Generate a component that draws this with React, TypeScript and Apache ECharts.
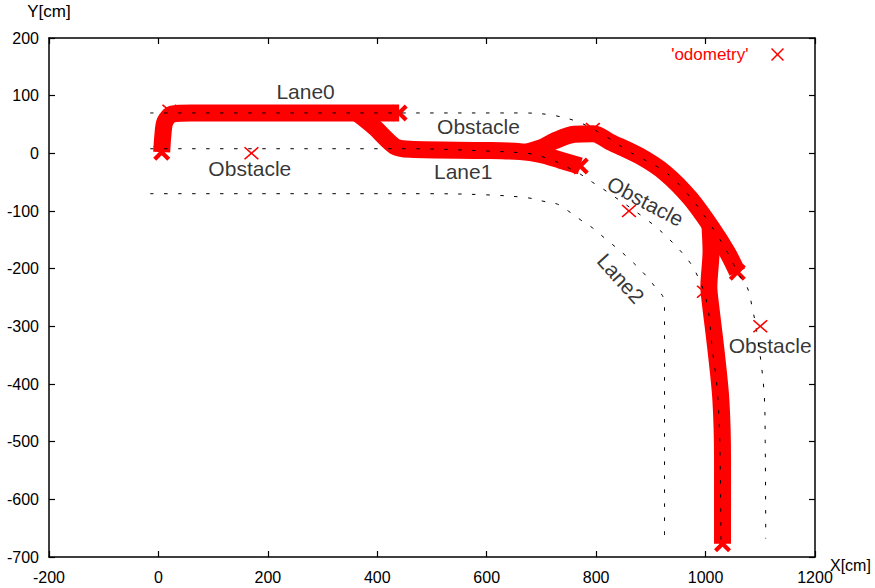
import React, { useEffect, useRef } from "react";
import * as echarts from "echarts";

// ---- axes ----
const xRange = [-200, 1200];
const xStep = 200;
const yRange = [-700, 200];
const yStep = 100;
const xTitle = "X[cm]";
const yTitle = "Y[cm]";
const legendName = "'odometry'";

// ---- lanes (dotted guide lines) [x, y] in cm ----
const lane0 = [
  [-15, 70], [300, 70], [620, 70], [666, 70], [721, 66], [771, 53], [820, 28],
  [862, 2], [926, -32], [972, -76], [1012, -128], [1040, -172], [1062, -212],
  [1076, -232], [1085, -266], [1094, -312], [1107, -416], [1109, -500], [1110, -668],
];
const lane1 = [
  [-15, 8], [300, 8], [460, 8], [600, 4], [674, 0], [698, -5], [721, -12],
  [747, -24], [771, -36], [793, -50], [813, -62], [898, -119], [939, -154],
  [972, -190], [986, -214], [996, -237], [1005, -272], [1012, -337],
  [1021, -406], [1026, -500], [1028, -670],
];
const lane2 = [
  [-15, -70], [300, -70], [490, -70], [600, -72], [674, -77], [703, -83],
  [729, -88], [749, -100], [771, -115], [793, -129], [813, -145], [857, -180],
  [890, -211], [908, -232], [923, -251], [925, -275], [925, -400], [925, -672],
];

// ---- odometry runs (dense markers -> thick trail) ----
const runA = [[6, 2], [8, 30], [12, 55], [25, 68], [60, 70], [440, 70]];
const runB = [[365, 68], [395, 45], [432, 12], [460, 7], [600, 5], [661, 3], [698, -2], [735, -12], [771, -22]];
const runC = [[672, 2], [700, 10], [725, 22], [760, 33], [795, 34], [825, 20], [880, -5], [926, -34], [972, -78], [1012, -130], [1040, -172], [1058, -206]];
const runD = [[1008, -125], [1010, -170], [1006, -232], [1008, -254], [1019, -341], [1028, -428], [1031, -532], [1031, -677]];
const runEnds = [[6, 2], [440, 70], [771, -22], [1058, -206], [1031, -677]];
const odometryPoints = [[20, 74], [794, 42], [997, -240]];

// ---- obstacles ----
const obstacles = [[170, 0], [860, -100], [1100, -300]];

// ---- text labels ----
const labelTexts = ["Lane0", "Obstacle", "Obstacle", "Lane1", "Obstacle", "Lane2", "Obstacle"];
const labelCoords = [[269, 108], [585, 46], [167, -27], [557, -31], [890, -83], [845, -217], [1118, -333]];
const labelAngles = [0, 0, 0, 0, -28, -48, 0];

const FONT = "'Liberation Sans', Arial, Helvetica, sans-serif";
const X_ICON =
  "path://M0,1.6L1.6,0L10,8.4L18.4,0L20,1.6L11.6,10L20,18.4L18.4,20L10,11.6L1.6,20L0,18.4L8.4,10Z";
const X_BOLD =
  "path://M0,3.5L3.5,0L10,6.5L16.5,0L20,3.5L13.5,10L20,16.5L16.5,20L10,13.5L3.5,20L0,16.5L6.5,10Z";

export default function App() {
  const ref = useRef<HTMLDivElement>(null);

  useEffect(() => {
    if (!ref.current) return;
    const chart = echarts.init(ref.current, null, { renderer: "svg" });

    const axisLine = { show: true, onZero: false, lineStyle: { color: "#000", width: 1.5 } };
    const axisTick = { show: true, inside: true, length: 6, lineStyle: { color: "#000", width: 1.2 } };

    const bandSeries = [runA, runB, runC, runD].map((run, i) => ({
      type: "line",
      name: "run" + i,
      data: run,
      smooth: 0.3,
      symbol: "none",
      silent: true,
      z: 2,
      lineStyle: { color: "#ff0000", width: 17, cap: "butt", join: "round" },
    }));

    const laneSeries = [lane0, lane1, lane2].map((lane, i) => ({
      type: "line",
      name: "lane" + i,
      data: lane,
      smooth: 0.35,
      symbol: "none",
      silent: true,
      z: 3,
      lineStyle: { color: "#000", width: 1, type: [3.5, 10.5] },
    }));

    chart.setOption({
      animation: false,
      backgroundColor: "#fff",
      textStyle: { fontFamily: FONT },
      grid: { left: 49, right: 60, top: 38, bottom: 31, containLabel: false, outerBoundsMode: "none" },
      legend: {
        data: [{ name: legendName, icon: X_ICON }],
        right: 86,
        top: 41,
        align: "right",
        itemWidth: 48,
        itemHeight: 13,
        selectedMode: false,
        textStyle: { color: "#ff0000", fontSize: 17, fontFamily: FONT },
      },
      graphic: [
        {
          type: "text",
          left: 830,
          top: 557,
          silent: true,
          style: { text: xTitle, fill: "#000", font: "16px " + FONT },
        },
      ],
      xAxis: [
        {
          type: "value", position: "bottom", min: xRange[0], max: xRange[1], interval: xStep,
          axisLine, axisTick, splitLine: { show: false },
          axisLabel: {
            color: "#000", fontSize: 16, margin: 12, fontFamily: FONT,
            showMinLabel: true, showMaxLabel: true, formatter: (v: number) => String(v),
          },
        },
        {
          type: "value", position: "top", min: xRange[0], max: xRange[1], interval: xStep,
          axisLine, axisTick, splitLine: { show: false }, axisLabel: { show: false },
        },
      ],
      yAxis: [
        {
          type: "value", position: "left", min: yRange[0], max: yRange[1], interval: yStep,
          axisLine, axisTick, splitLine: { show: false },
          axisLabel: {
            color: "#000", fontSize: 16, margin: 10, fontFamily: FONT,
            showMinLabel: true, showMaxLabel: true, formatter: (v: number) => String(v),
          },
          name: yTitle, nameLocation: "end", nameGap: 18,
          nameTextStyle: { color: "#000", fontSize: 17, fontFamily: FONT, align: "center" },
        },
        {
          type: "value", position: "right", min: yRange[0], max: yRange[1], interval: yStep,
          axisLine, axisTick, splitLine: { show: false }, axisLabel: { show: false },
        },
      ],
      series: [
        {
          type: "scatter",
          name: legendName,
          data: obstacles,
          symbol: X_ICON,
          symbolSize: [15, 13],
          silent: true,
          z: 4,
          itemStyle: { color: "#ff0000", opacity: 1 },
        },
        {
          type: "scatter",
          name: "odometryMarks",
          data: odometryPoints,
          symbol: X_ICON,
          symbolSize: [15, 13],
          silent: true,
          z: 1,
          itemStyle: { color: "#ff0000", opacity: 1 },
        },
        {
          type: "scatter",
          name: "odometryEnds",
          data: runEnds,
          symbol: X_BOLD,
          symbolSize: [17, 17],
          silent: true,
          z: 2,
          itemStyle: { color: "#ff0000", opacity: 1 },
        },
        ...bandSeries,
        ...laneSeries,
        {
          type: "scatter",
          name: "labels",
          silent: true,
          z: 5,
          symbolSize: 1,
          itemStyle: { color: "transparent" },
          data: labelTexts.map((t, i) => ({
            name: t,
            value: labelCoords[i],
            label: { rotate: labelAngles[i] },
          })),
          label: {
            show: true,
            position: "inside",
            formatter: "{b}",
            color: "#000",
            fontSize: 21,
            fontFamily: FONT,
            align: "center",
            verticalAlign: "middle",
          },
        },
      ],
    });

    return () => chart.dispose();
  }, []);

  return (
    <div
      ref={ref}
      style={{ position: "absolute", left: 0, top: 0, width: 875, height: 588, background: "#fff" }}
    />
  );
}
